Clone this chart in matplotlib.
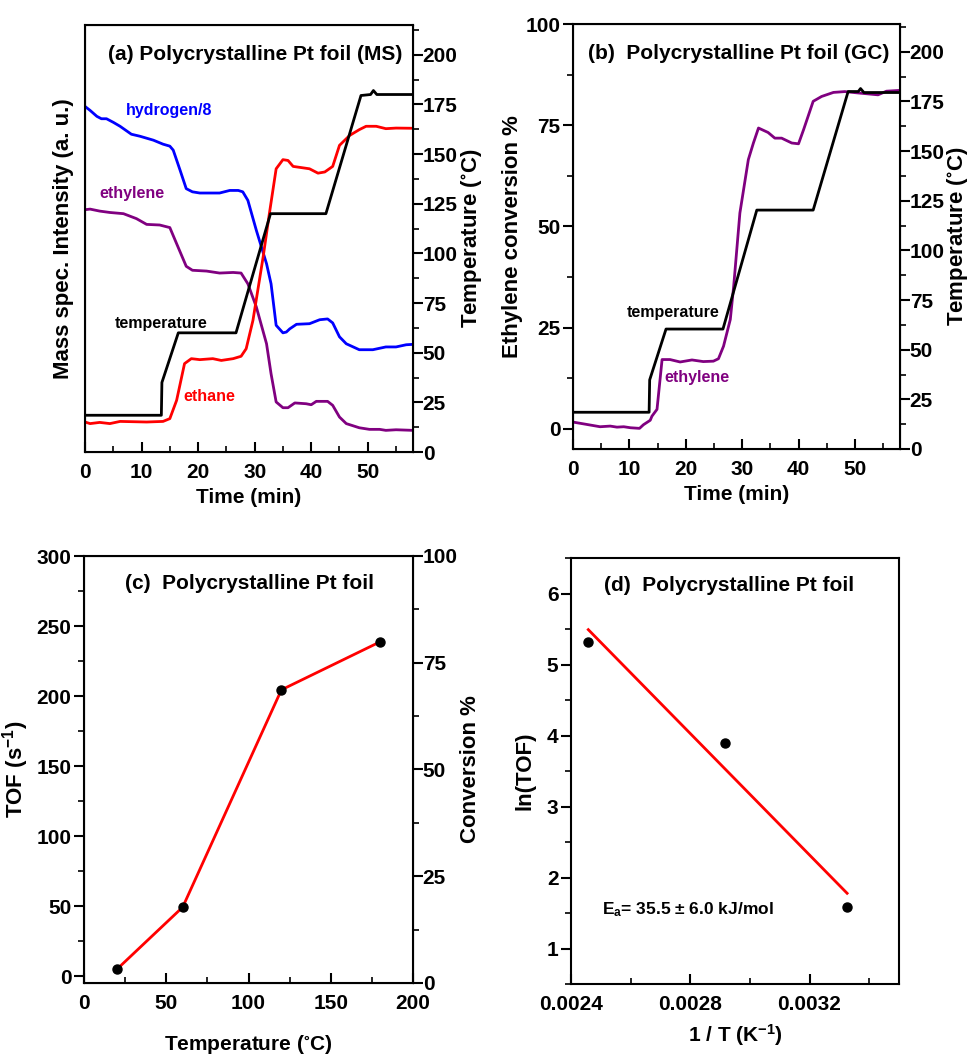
import numpy as np
import matplotlib
matplotlib.use("Agg")
import matplotlib.pyplot as plt
from matplotlib.ticker import MultipleLocator

plt.rcParams['font.family'] = ['Liberation Sans', 'DejaVu Sans']
plt.rcParams['font.weight'] = 'bold'
plt.rcParams['axes.labelweight'] = 'bold'
plt.rcParams['mathtext.fontset'] = 'custom'
plt.rcParams['mathtext.rm'] = 'Liberation Sans:bold'
plt.rcParams['mathtext.bf'] = 'Liberation Sans:bold'
plt.rcParams['mathtext.it'] = 'Liberation Sans:bold'
plt.rcParams['mathtext.default'] = 'regular'

# ---- panel (a): mass spec traces ----
t_h2 = [0, 0.9, 2.1, 2.9, 3.8, 5, 6.2, 8.2, 9.7, 10.9, 12.1, 13.8, 15, 15.6, 16.8, 17.9, 19,
        20.3, 23.8, 25.6, 27.1, 27.9, 28.8, 30.3, 32.1, 32.9, 33.8, 35, 35.6, 36.2, 37.4, 39.7,
        41.5, 42.9, 43.8, 45, 46.2, 48.5, 50.9, 53.2, 55, 56.8, 58]
h2 = [174, 172, 169, 167.8, 167.8, 166, 164, 160, 159, 158, 157, 155, 154, 152, 142, 132.6, 131,
      130.4, 130.4, 131.7, 131.7, 131, 126.7, 111.6, 94.8, 84.7, 63.8, 60, 60.4, 62, 64.3, 64.6,
      66.6, 67, 65, 58, 54.5, 51.5, 51.5, 52.9, 52.9, 54, 54.2]

t_c2h4 = [0, 0.9, 2.6, 4.4, 6.8, 9.1, 10.9, 13.2, 15, 16.2, 17.9, 19, 21.5, 23.8, 26.2, 27.6,
          28.8, 30.3, 32.1, 32.9, 33.8, 35, 35.9, 37.1, 39.1, 40, 40.9, 42.9, 43.8, 45, 46.2,
          48.5, 50.3, 52.1, 53.2, 55, 58]
c2h4 = [122, 122.3, 121.3, 120.6, 120, 117.5, 114.6, 114.3, 113, 104.9, 93.5, 91.5, 91.1, 90.1,
        90.4, 90.1, 84.7, 73, 54.5, 39.4, 25.2, 22.3, 22.3, 24.7, 24.3, 23.8, 25.5, 25.5, 23.5,
        17.6, 14.3, 12.2, 11.4, 11.4, 10.9, 11.2, 10.9]

t_c2h6 = [0, 0.9, 2.6, 4.4, 6.2, 10.9, 13.8, 15, 16.2, 17.6, 18.8, 20.3, 22.6, 24.1, 26.2, 27.6,
          28.5, 29.7, 31.5, 32.6, 33.8, 35, 35.9, 36.8, 38.5, 39.7, 41.2, 42.4, 43.8, 45, 46.8,
          48.5, 49.7, 51.5, 53.2, 55, 58]
c2h6 = [15.1, 14.3, 14.9, 14.3, 15.4, 15.1, 15.4, 16.8, 26, 44.5, 47, 46.5, 47, 46.1, 47, 48.2,
        52, 66.3, 98.2, 120, 142.6, 147.2, 146.8, 143.8, 143.1, 142.6, 140.4, 141, 143.8, 154.4,
        159.4, 162.3, 164, 164, 162.8, 163.1, 163]

t_temp_a = [0, 13.5, 13.6, 16.5, 26.7, 32.8, 42.6, 48.8, 50.5, 51, 51.6, 58]
temp_a = [18.5, 18.5, 35, 60, 60, 120, 120, 179.5, 180, 182, 180, 180]

# ---- panel (b): GC conversion ----
t_conv = [0, 1.9, 4.8, 6.6, 7.8, 9, 10.2, 11.8, 12.5, 13.7, 14, 14.9, 15.8, 17.2, 19, 21.1, 23.1,
          24.9, 25.8, 26.7, 27.9, 28.5, 29.6, 31.1, 32, 32.9, 34.6, 35.8, 37, 38.8, 40, 40.9,
          42.6, 44.1, 46.2, 48.2, 50.3, 54.1, 55.6, 58]
conv = [1.65, 1.2, 0.5, 0.66, 0.4, 0.5, 0.25, 0.1, 1, 2.1, 3.1, 4.8, 17.1, 17.1, 16.5, 17, 16.6,
        16.7, 17.3, 20.4, 27, 35.2, 53.3, 66.5, 70.6, 74.3, 73.2, 71.8, 71.8, 70.6, 70.4, 73.9,
        80.9, 82.1, 83.1, 83.3, 83, 82.5, 83.4, 83.6]

t_temp_b = [0, 13.5, 13.6, 16.5, 26.6, 32.6, 42.6, 48.8, 50.6, 51, 51.6, 58]
temp_b = [18.5, 18.5, 34.8, 60.4, 60.4, 120.3, 120.3, 180, 180, 181.5, 179.5, 179.5]

# ---- panel (c): TOF vs temperature ----
T_c = [20, 60, 120, 180]
tof = [4.8, 49.2, 204.4, 238.7]

# ---- panel (d): Arrhenius ----
inv_T = [0.002458, 0.002917, 0.003326]
ln_tof = [5.32, 3.89, 1.586]

W, H = 968, 1058
fig = plt.figure(figsize=(W / 100, H / 100), dpi=100)
TICK_FS = 15


def box(l, r, t, b):
    return [l / W, 1 - b / H, (r - l) / W, (b - t) / H]


def style(ax):
    for s in ax.spines.values():
        s.set_linewidth(1.5)
    ax.tick_params(axis='x', which='both', direction='in', top=False, labelsize=TICK_FS, pad=8)
    ax.tick_params(axis='x', which='major', length=7, width=1.5)
    ax.tick_params(axis='x', which='minor', length=4, width=1.2)
    ax.tick_params(axis='y', which='both', direction='out', right=False, labelsize=TICK_FS, pad=2)
    ax.tick_params(axis='y', which='major', length=7, width=1.5)
    ax.tick_params(axis='y', which='minor', length=4, width=1.2)


def style_right(ax2):
    ax2.tick_params(axis='y', which='both', direction='out', labelsize=TICK_FS, pad=0)
    ax2.tick_params(axis='y', which='major', length=7, width=1.5)
    ax2.tick_params(axis='y', which='minor', length=4, width=1.2)


# (a)
ax = fig.add_axes(box(85, 413, 25, 452))
style(ax)
ax.plot(t_h2, h2, color='#0000ff', lw=2)
ax.plot(t_c2h4, c2h4, color='#800080', lw=2)
ax.plot(t_c2h6, c2h6, color='#ff0000', lw=2)
ax.set_xlim(0, 58)
ax.set_ylim(0, 215)
ax.set_yticks([])
ax.xaxis.set_major_locator(MultipleLocator(10))
ax.xaxis.set_minor_locator(MultipleLocator(5))
ax.set_xlabel('Time (min)', fontsize=15, labelpad=4)
ax.set_ylabel('Mass spec. Intensity (a. u.)', fontsize=16, labelpad=8)
ax2 = ax.twinx()
ax2.plot(t_temp_a, temp_a, color='black', lw=2)
ax2.set_ylim(0, 215)
ax2.yaxis.set_major_locator(MultipleLocator(25))
ax2.yaxis.set_minor_locator(MultipleLocator(12.5))
style_right(ax2)
ax2.set_ylabel('Temperature ($^{\\circ}$C)', fontsize=16, labelpad=1)
ax.text(0.07, 0.93, '(a) Polycrystalline Pt foil (MS)', transform=ax.transAxes, fontsize=15,
        va='center', ha='left')
ax.text(0.125, 0.80, 'hydrogen/8', color='#0000ff', transform=ax.transAxes, fontsize=11.5, va='center')
ax.text(0.043, 0.605, 'ethylene', color='#800080', transform=ax.transAxes, fontsize=11.5, va='center')
ax.text(0.09, 0.302, 'temperature', color='black', transform=ax.transAxes, fontsize=11.5, va='center')
ax.text(0.30, 0.129, 'ethane', color='#ff0000', transform=ax.transAxes, fontsize=11.5, va='center')

# (b)
ax = fig.add_axes(box(573, 900, 24, 449))
style(ax)
ax.plot(t_conv, conv, color='#800080', lw=2)
ax.set_xlim(0, 58)
ax.set_ylim(-5, 100)
ax.xaxis.set_major_locator(MultipleLocator(10))
ax.xaxis.set_minor_locator(MultipleLocator(5))
ax.yaxis.set_major_locator(MultipleLocator(25))
ax.yaxis.set_minor_locator(MultipleLocator(12.5))
ax.set_xlabel('Time (min)', fontsize=15, labelpad=4)
ax.set_ylabel('Ethylene conversion %', fontsize=16, labelpad=2)
ax2 = ax.twinx()
ax2.plot(t_temp_b, temp_b, color='black', lw=2)
ax2.set_ylim(0, 214)
ax2.yaxis.set_major_locator(MultipleLocator(25))
ax2.yaxis.set_minor_locator(MultipleLocator(12.5))
style_right(ax2)
ax2.set_ylabel('Temperature ($^{\\circ}$C)', fontsize=16, labelpad=0)
ax.text(0.045, 0.93, '(b)  Polycrystalline Pt foil (GC)', transform=ax.transAxes, fontsize=15,
        va='center', ha='left')
ax.text(0.165, 0.32, 'temperature', color='black', transform=ax.transAxes, fontsize=11.5, va='center')
ax.text(0.278, 0.169, 'ethylene', color='#800080', transform=ax.transAxes, fontsize=11.5, va='center')

# (c)
ax = fig.add_axes(box(84, 413, 556, 983))
style(ax)
ax.plot(T_c, tof, color='#ff0000', lw=2, zorder=2)
ax.plot(T_c, tof, 'o', color='black', ms=6.5, zorder=3)
ax.set_xlim(0, 200)
ax.set_ylim(-5, 300)
ax.xaxis.set_major_locator(MultipleLocator(50))
ax.xaxis.set_minor_locator(MultipleLocator(25))
ax.yaxis.set_major_locator(MultipleLocator(50))
ax.yaxis.set_minor_locator(MultipleLocator(25))
ax.set_xlabel('Temperature ($^{\\circ}$C)', fontsize=15, labelpad=14)
ax.set_ylabel('TOF (s$^{-1}$)', fontsize=16, labelpad=4)
ax2 = ax.twinx()
ax2.set_ylim(0, 100)
ax2.yaxis.set_major_locator(MultipleLocator(25))
ax2.yaxis.set_minor_locator(MultipleLocator(12.5))
style_right(ax2)
ax2.set_ylabel('Conversion %', fontsize=16, labelpad=2)
ax.text(0.125, 0.935, '(c)  Polycrystalline Pt foil', transform=ax.transAxes, fontsize=15,
        va='center', ha='left')

# (d)
ax = fig.add_axes(box(571, 899, 558, 984))
style(ax)
fit = np.polyfit(inv_T, ln_tof, 1)
xf = np.array([inv_T[0], inv_T[-1]])
ax.plot(xf, np.polyval(fit, xf), color='#ff0000', lw=2, zorder=2)
ax.plot(inv_T, ln_tof, 'o', color='black', ms=6.5, zorder=3)
ax.set_xlim(0.0024, 0.0035)
ax.set_ylim(0.5, 6.5)
ax.xaxis.set_major_locator(MultipleLocator(0.0004))
ax.xaxis.set_minor_locator(MultipleLocator(0.0002))
ax.xaxis.set_major_formatter(matplotlib.ticker.FormatStrFormatter('%.4f'))
ax.yaxis.set_major_locator(MultipleLocator(1))
ax.yaxis.set_minor_locator(MultipleLocator(0.5))
ax.set_xlabel('1 / T (K$^{-1}$)', fontsize=15, labelpad=6)
ax.set_ylabel('ln(TOF)', fontsize=16, labelpad=8)
ax.text(0.095, 0.175, 'E$_a$= 35.5 ± 6.0 kJ/mol', transform=ax.transAxes, fontsize=12.5,
        va='center', ha='left')
ax.text(0.10, 0.935, '(d)  Polycrystalline Pt foil', transform=ax.transAxes, fontsize=15,
        va='center', ha='left')

fig.savefig('out.png', dpi=100)
